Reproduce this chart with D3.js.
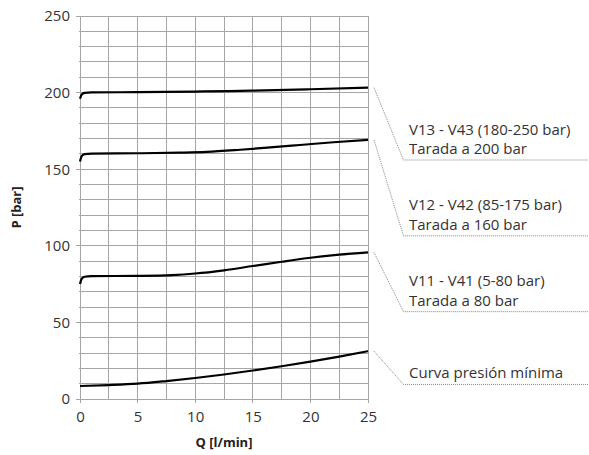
<!DOCTYPE html>
<html><head><meta charset="utf-8">
<script src="https://cdn.jsdelivr.net/npm/d3@7"></script>
<style>
html,body{margin:0;padding:0;background:#fff;}
svg{display:block;font-family:"Open Sans",sans-serif;}
</style></head>
<body>
<svg id="chart" width="589" height="455"></svg>
<script>
// Data
const qMin = [0, 2.5, 5, 7.5, 10, 12.5, 15, 17.5, 20, 22.5, 25];
const pMin = [8.5, 9.1, 10.0, 11.7, 13.7, 16.0, 18.6, 21.4, 24.4, 27.7, 31.2];
const q80 = [0, 0.15, 0.4, 1, 5, 8, 10, 12.5, 15, 17.5, 20, 22.5, 25];
const p80 = [75, 78.5, 79.8, 80.2, 80.4, 80.9, 81.9, 84.0, 86.8, 89.6, 92.2, 94.2, 95.7];
const q160 = [0, 0.15, 0.4, 1, 5, 8.7, 11, 13.9, 16.5, 19.1, 22, 25];
const p160 = [155, 158.5, 159.8, 160.2, 160.4, 160.8, 161.3, 162.7, 164.2, 165.8, 167.6, 169.1];
const q200 = [0, 0.15, 0.4, 1, 5, 10, 13, 15, 20, 25];
const p200 = [196, 198.8, 199.8, 200.1, 200.3, 200.7, 201.0, 201.3, 202.2, 203.2];
const labelLines = [
  ["V13 - V43 (180-250 bar)", "Tarada a 200 bar"],
  ["V12 - V42 (85-175 bar)", "Tarada a 160 bar"],
  ["V11 - V41 (5-80 bar)", "Tarada a 80 bar"],
  ["Curva presión mínima"]
];
const labelAnchorP = [156, 106.5, 57, 9.5];
const xTicks = [0, 5, 10, 15, 20, 25];
const yTicks = [0, 50, 100, 150, 200, 250];
const xTitle = "Q [l/min]";
const yTitle = "P [bar]";

const series = [
  {q: q200, p: p200},
  {q: q160, p: p160},
  {q: q80, p: p80},
  {q: qMin, p: pMin}
];

const svg = d3.select("#chart");
const x = d3.scaleLinear().domain([0, 25]).range([80, 368]);
const y = d3.scaleLinear().domain([0, 250]).range([399, 16]);
const gridColor = "#a6a6a6";
const textColor = "#333";

// grid
const g = svg.append("g");
g.selectAll("line.vx").data(d3.range(0, 25.01, 2.5)).enter().append("line")
  .attr("x1", d => x(d)).attr("x2", d => x(d))
  .attr("y1", y(250)).attr("y2", d => (d % 5 === 0 ? y(0) + 4 : y(0)))
  .attr("stroke", gridColor).attr("stroke-width", 1).attr("shape-rendering", "crispEdges");
g.selectAll("line.hy").data(d3.range(0, 250.01, 10)).enter().append("line")
  .attr("x1", d => (d % 50 === 0 ? x(0) - 4 : x(0) - 1)).attr("x2", x(25))
  .attr("y1", d => y(d)).attr("y2", d => y(d))
  .attr("stroke", gridColor).attr("stroke-width", 1).attr("shape-rendering", "crispEdges");

// axes labels via d3 axes
const xAxis = svg.append("g").attr("transform", `translate(0,${y(0)})`)
  .call(d3.axisBottom(x).tickValues(xTicks).tickSize(0).tickPadding(12));
const yAxis = svg.append("g").attr("transform", `translate(${x(0)},0)`)
  .call(d3.axisLeft(y).tickValues(yTicks).tickSize(0).tickPadding(10));
[xAxis, yAxis].forEach(a => {
  a.select(".domain").remove();
  a.selectAll("text").attr("font-family", "Open Sans").attr("font-size", 15).attr("fill", textColor);
});

// titles
svg.append("text").attr("x", (x(0) + x(25)) / 2).attr("y", 447)
  .attr("text-anchor", "middle").attr("font-weight", "bold").attr("font-size", 13)
  .attr("fill", "#222").text(xTitle);
svg.append("text").attr("transform", `translate(21,${(y(0) + y(250)) / 2}) rotate(-90)`)
  .attr("text-anchor", "middle").attr("font-weight", "bold").attr("font-size", 13)
  .attr("fill", "#222").text(yTitle);

// curves
const line = d3.line().x(d => x(d[0])).y(d => y(d[1])).curve(d3.curveMonotoneX);
series.forEach(s => {
  svg.append("path").datum(s.q.map((q, i) => [q, s.p[i]]))
    .attr("d", line).attr("fill", "none").attr("stroke", "#000").attr("stroke-width", 2.2);
});

// leaders + labels
series.forEach((s, i) => {
  const endP = s.p[s.p.length - 1];
  const x0 = x(25) + 6, y0 = y(endP);
  const x1 = x(25) + 35.5, y1 = y(labelAnchorP[i]);
  svg.append("path").attr("d", `M${x0},${y0}L${x1},${y1}L588,${y1}`)
    .attr("fill", "none").attr("stroke", "#777").attr("stroke-width", 0.9)
    .attr("stroke-dasharray", "1,1");
  const lines = labelLines[i];
  lines.forEach((t, j) => {
    svg.append("text").attr("x", x1 + 5.5)
      .attr("y", y1 - 6 - (lines.length - 1 - j) * 19.5)
      .attr("font-size", 15).attr("fill", textColor).text(t);
  });
});
</script>
</body></html>
